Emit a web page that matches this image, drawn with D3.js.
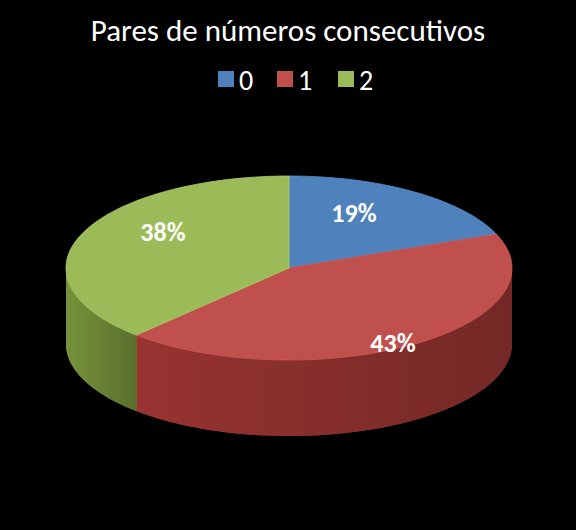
<!DOCTYPE html>
<html><head><meta charset="utf-8">
<script src="https://cdn.jsdelivr.net/npm/d3@7"></script>
<style>body{margin:0;background:#000}</style>
</head><body>
<svg id="chart" width="576" height="530"></svg>
<script>
var categories = ["0", "1", "2"];
var values = [19, 43, 38];
var colors = ["#4F81BD", "#C0504D", "#9BBB59"];
var sideColors = ["#2c4d75", "#8a2a27", "#6a8530"];

var svg = d3.select("#chart");
svg.append("rect").attr("width", 576).attr("height", 530).attr("fill", "#000");

var cx = 289, cy = 268, rx = 223, ry = 92, depth = 76;

svg.append("text").attr("x", 288).attr("y", 41).attr("text-anchor", "middle")
    .attr("fill", "#fff").style("font", "31px Calibri, Carlito, 'Open Sans', sans-serif")
    .text("Pares de números consecutivos");

// legend
var lg = svg.append("g");
var lx = [218, 277, 338];
categories.forEach(function (c, i) {
    lg.append("rect").attr("x", lx[i]).attr("y", 71).attr("width", 16).attr("height", 16)
        .attr("fill", colors[i]);
    lg.append("text").attr("x", lx[i] + 21).attr("y", 90).attr("fill", "#fff")
        .style("font", "28px Calibri, Carlito, 'Open Sans', sans-serif").text(c);
});

var pie = d3.pie().sort(null).value(d => d)(values);

function pt(t, dy) {
    return [cx + rx * Math.sin(t), cy - ry * Math.cos(t) + (dy || 0)];
}
function arcPts(a, b, dy) {
    var n = 60, p = [];
    for (var i = 0; i <= n; i++) p.push(pt(a + (b - a) * i / n, dy));
    return p;
}

var defs = svg.append("defs");
pie.forEach(function (s, i) {
    var g = defs.append("linearGradient").attr("id", "side" + i).attr("x1", 0).attr("x2", 1);
    g.append("stop").attr("offset", "0%").attr("stop-color", sideColors[i]);
    g.append("stop").attr("offset", "100%").attr("stop-color", d3.color(sideColors[i]).darker(1.2));
    var a = Math.max(s.startAngle, Math.PI / 2), b = Math.min(s.endAngle, 3 * Math.PI / 2);
    if (a >= b) return;
    var top = arcPts(a, b, 0), bot = arcPts(b, a, depth);
    svg.append("path").attr("d", "M" + top.concat(bot).join("L") + "Z")
        .attr("fill", colors[i]);
    svg.append("path").attr("d", "M" + top.concat(bot).join("L") + "Z")
        .attr("fill", "url(#side" + i + ")").attr("opacity", 0.75);
});

pie.forEach(function (s, i) {
    var p = [[cx, cy]].concat(arcPts(s.startAngle, s.endAngle, 0));
    svg.append("path").attr("d", "M" + p.join("L") + "Z")
        .attr("fill", colors[i]).attr("stroke", d3.color(colors[i]).brighter(0.3)).attr("stroke-width", 0.8);
});

var labelPos = [[354, 222], [393, 352], [163, 241]];
pie.forEach(function (s, i) {
    svg.append("text").attr("x", labelPos[i][0]).attr("y", labelPos[i][1])
        .attr("text-anchor", "middle").attr("fill", "#fff")
        .style("font", "bold 26px Calibri, Carlito, 'Open Sans', sans-serif")
        .text(values[i] + "%");
});
</script>
</body></html>
